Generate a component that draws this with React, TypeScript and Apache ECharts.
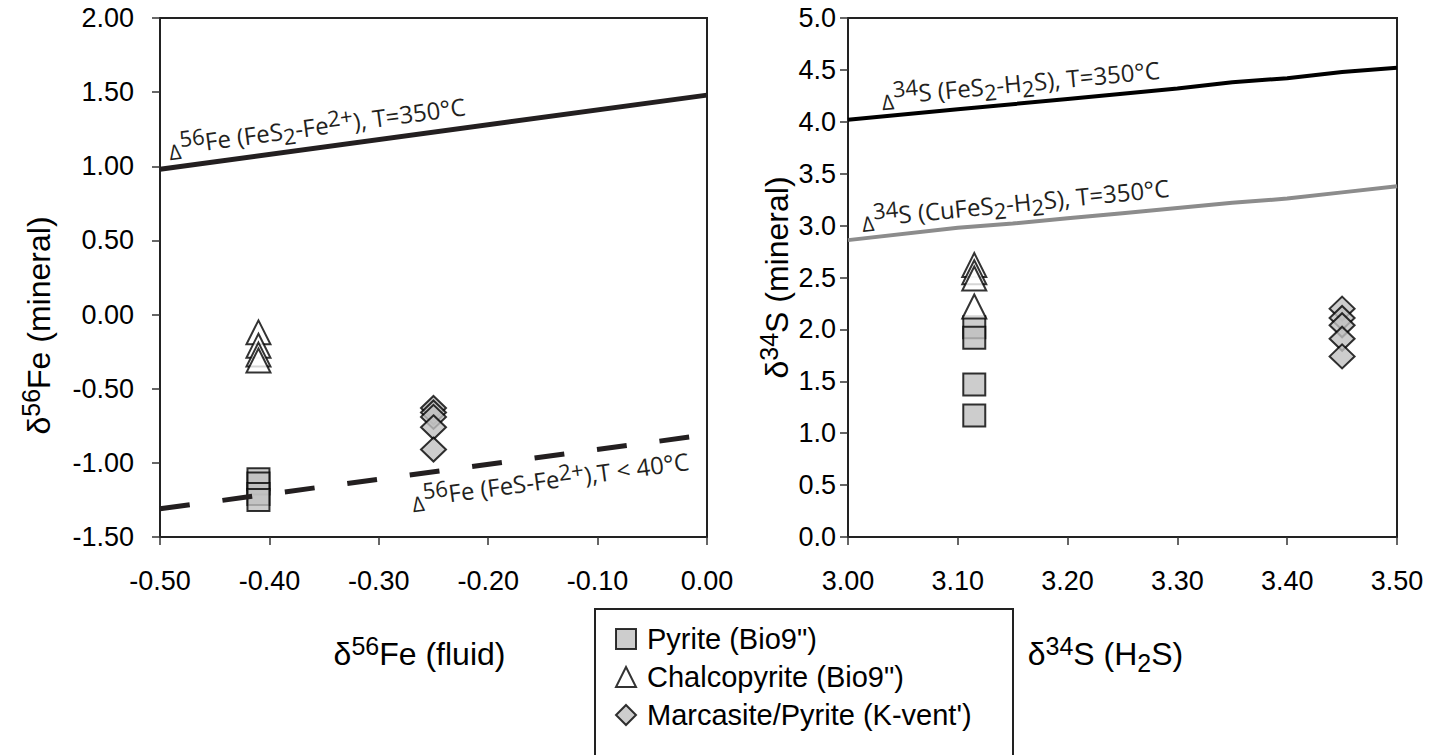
import { useEffect, useRef } from "react";
import * as echarts from "echarts";

const SERIES_NAMES = ["Pyrite (Bio9\")", "Chalcopyrite (Bio9\")", "Marcasite/Pyrite (K-vent')"];

// ---- Fe panel (left) ----
const fePyriteX = [-0.41, -0.41, -0.41, -0.41];
const fePyriteY = [-1.11, -1.14, -1.21, -1.25];
const feChalcoX = [-0.41, -0.41, -0.41, -0.41];
const feChalcoY = [-0.12, -0.21, -0.27, -0.31];
const feMarcX = [-0.25, -0.25, -0.25, -0.25, -0.25];
const feMarcY = [-0.63, -0.66, -0.69, -0.76, -0.91];
const feHotLineX = [-0.5, 0.0];
const feHotLineY = [0.98, 1.48];
const feColdLineX = [-0.5, 0.0];
const feColdLineY = [-1.31, -0.81];

// ---- S panel (right) ----
const sPyriteX = [3.115, 3.115, 3.115, 3.115];
const sPyriteY = [2.02, 1.92, 1.47, 1.17];
const sChalcoX = [3.115, 3.115, 3.115, 3.115];
const sChalcoY = [2.62, 2.55, 2.49, 2.22];
const sMarcX = [3.45, 3.45, 3.45, 3.45, 3.45];
const sMarcY = [2.2, 2.11, 2.04, 1.91, 1.74];
const sPyLineX = [3.0, 3.1, 3.2, 3.25, 3.3, 3.35, 3.4, 3.45, 3.5];
const sPyLineY = [4.02, 4.12, 4.22, 4.27, 4.32, 4.38, 4.42, 4.48, 4.52];
const sCpLineX = [3.0, 3.1, 3.15, 3.2, 3.25, 3.3, 3.35, 3.4, 3.45, 3.5];
const sCpLineY = [2.86, 2.98, 3.02, 3.07, 3.12, 3.17, 3.22, 3.26, 3.32, 3.38];

const ARIAL = 'Arial, "Liberation Sans", sans-serif';
const MYRIAD = '"Open Sans", "Noto Sans", sans-serif';

const zip = (xs: number[], ys: number[]) => xs.map((x, i) => [x, ys[i]]);

const valueAxis = (grid: number, min: number, max: number, interval: number, digits: number, margin: number, extra: any) => ({
  type: "value",
  gridIndex: grid,
  min,
  max,
  interval,
  axisLine: { show: true, onZero: false, lineStyle: { color: "#222", width: 2 } },
  axisTick: { show: true, inside: false, length: 8, lineStyle: { color: "#333", width: 1.5 } },
  splitLine: { show: false },
  axisLabel: {
    formatter: (v: number) => v.toFixed(digits),
    fontSize: 27,
    fontFamily: ARIAL,
    color: "#000",
    margin,
    showMinLabel: true,
    showMaxLabel: true,
  },
  ...extra,
});

const titleRich = {
  d: { fontSize: 32, lineHeight: 42, fontFamily: ARIAL, color: "#000" },
  n: { fontSize: 32, lineHeight: 42, fontFamily: ARIAL, color: "#000" },
  s: { fontSize: 25, lineHeight: 25, fontFamily: ARIAL, color: "#000", verticalAlign: "top" },
  b: { fontSize: 25, lineHeight: 25, fontFamily: ARIAL, color: "#000", verticalAlign: "bottom" },
};

const annoRich = {
  D: { fontSize: 21, lineHeight: 29, fontFamily: MYRIAD, fill: "#231f20", verticalAlign: "bottom" },
  n: { fontSize: 24, lineHeight: 34, fontFamily: MYRIAD, fill: "#231f20" },
  sup: { fontSize: 22, lineHeight: 22, fontFamily: MYRIAD, fill: "#231f20", verticalAlign: "top" },
  sub: { fontSize: 22, lineHeight: 22, fontFamily: MYRIAD, fill: "#231f20", verticalAlign: "bottom" },
};

// annotation texts anchored on their model lines (data coordinates)
const annotations = [
  { grid: 0, lineX: feHotLineX, lineY: feHotLineY, at: [-0.49, 0.99], gap: 5, above: true,
    text: "{D|Δ}{sup|56}{n|Fe (FeS}{sub|2}{n|-Fe}{sup|2+}{n|), T=350°C}" },
  { grid: 0, lineX: feColdLineX, lineY: feColdLineY, at: [-0.273, -1.083], gap: 6, above: false,
    text: "{D|Δ}{sup|56}{n|Fe (FeS-Fe}{sup|2+}{n|),T < 40°C}" },
  { grid: 1, lineX: sPyLineX, lineY: sPyLineY, at: [3.032, 4.05], gap: 4, above: true,
    text: "{D|Δ}{sup|34}{n|S (FeS}{sub|2}{n|-H}{sub|2}{n|S), T=350°C}" },
  { grid: 1, lineX: sCpLineX, lineY: sCpLineY, at: [3.014, 2.875], gap: 4, above: true,
    text: "{D|Δ}{sup|34}{n|S (CuFeS}{sub|2}{n|-H}{sub|2}{n|S), T=350°C}" },
];

const scatterSeries = (grid: number, xs: number[], ys: number[], kind: number) => {
  const styles = [
    { symbol: "rect", symbolSize: 22, itemStyle: { color: "#c0c0c0", borderColor: "#000", borderWidth: 2 } },
    { symbol: "triangle", symbolSize: [24, 24], itemStyle: { color: "#fff", borderColor: "#000", borderWidth: 2 } },
    { symbol: "diamond", symbolSize: [25, 24], itemStyle: { color: "#c0c0c0", borderColor: "#000", borderWidth: 2 } },
  ];
  return {
    type: "scatter",
    name: SERIES_NAMES[kind],
    xAxisIndex: grid,
    yAxisIndex: grid,
    data: zip(xs, ys),
    silent: true,
    ...styles[kind],
  };
};

const lineSeries = (grid: number, xs: number[], ys: number[], color: string, width: number, type: any) => ({
  type: "line",
  xAxisIndex: grid,
  yAxisIndex: grid,
  data: zip(xs, ys),
  showSymbol: false,
  symbol: "none",
  silent: true,
  z: 3,
  lineStyle: { color, width, type, cap: "butt" },
});

export default function App() {
  const ref = useRef<HTMLDivElement>(null);
  useEffect(() => {
    document.body.style.margin = "0";
    const chart = echarts.init(ref.current!, null, { renderer: "svg" });
    const option: any = {
      animation: false,
      backgroundColor: "#fff",
      grid: [
        { left: 160, top: 18, width: 547, height: 519, show: true, borderColor: "#222", borderWidth: 2, backgroundColor: "transparent" },
        { left: 848, top: 18, width: 549, height: 519, show: true, borderColor: "#222", borderWidth: 2, backgroundColor: "transparent" },
      ],
      xAxis: [
        valueAxis(0, -0.5, 0, 0.1, 2, 30, {
          name: "{d|δ}{s|56}{n|Fe (fluid)}",
          nameLocation: "middle",
          nameGap: 96,
          nameTextStyle: { padding: [0, 28, 0, 0], rich: titleRich },
        }),
        valueAxis(1, 3.0, 3.5, 0.1, 2, 30, {
          name: "{d|δ}{s|34}{n|S (H}{b|2}{n|S)}",
          nameLocation: "middle",
          nameGap: 96,
          nameTextStyle: { padding: [0, 34, 0, 0], rich: titleRich },
        }),
      ],
      yAxis: [
        valueAxis(0, -1.5, 2, 0.5, 2, 26, {
          name: "{d|δ}{s|56}{n|Fe (mineral)}",
          nameLocation: "middle",
          nameRotate: 90,
          nameGap: 100,
          nameTextStyle: { padding: [0, 96, 0, 0], rich: titleRich },
        }),
        valueAxis(1, 0, 5, 0.5, 1, 12, {
          name: "{d|δ}{s|34}{n|S (mineral)}",
          nameLocation: "middle",
          nameRotate: 90,
          nameGap: 50,
          nameTextStyle: { rich: titleRich },
        }),
      ],
      legend: {
        data: SERIES_NAMES,
        orient: "vertical",
        left: 597,
        top: 611,
        padding: [12, 10, 4, 18],
        itemGap: 6,
        itemWidth: 20,
        itemHeight: 20,
        borderWidth: 0,
        selectedMode: false,
        textStyle: { fontSize: 29, lineHeight: 32, fontFamily: ARIAL, color: "#000", padding: [0, 0, 0, 6] },
      },
      graphic: [],
      series: [
        scatterSeries(0, fePyriteX, fePyriteY, 0),
        scatterSeries(0, feChalcoX, feChalcoY, 1),
        scatterSeries(0, feMarcX, feMarcY, 2),
        scatterSeries(1, sPyriteX, sPyriteY, 0),
        scatterSeries(1, sChalcoX, sChalcoY, 1),
        scatterSeries(1, sMarcX, sMarcY, 2),
        lineSeries(0, feHotLineX, feHotLineY, "#231f20", 5, "solid"),
        lineSeries(0, feColdLineX, feColdLineY, "#231f20", 5, [30, 33]),
        lineSeries(1, sPyLineX, sPyLineY, "#000", 4, "solid"),
        lineSeries(1, sCpLineX, sCpLineY, "#8c8c8c", 4, "solid"),
      ],
    };
    chart.setOption(option);

    const graphics: any[] = annotations.map((a) => {
      const finder = { xAxisIndex: a.grid, yAxisIndex: a.grid };
      const n = a.lineX.length - 1;
      const p0 = chart.convertToPixel(finder, [a.lineX[0], a.lineY[0]]) as number[];
      const p1 = chart.convertToPixel(finder, [a.lineX[n], a.lineY[n]]) as number[];
      const angle = Math.atan2(p0[1] - p1[1], p1[0] - p0[0]);
      const p = chart.convertToPixel(finder, a.at) as number[];
      return {
        type: "group",
        x: p[0],
        y: p[1],
        rotation: angle,
        silent: true,
        children: [
          {
            type: "text",
            x: 0,
            y: a.above ? -a.gap : a.gap,
            style: {
              text: a.text,
              rich: annoRich,
              align: "left",
              verticalAlign: a.above ? "bottom" : "top",
              fill: "#231f20",
              fontFamily: MYRIAD,
              fontSize: 24,
            },
          },
        ],
      };
    });
    // legend frame (open at the bottom of the page, as in the figure)
    graphics.push({
      type: "rect",
      silent: true,
      z: -1,
      shape: { x: 595, y: 609, width: 418, height: 200 },
      style: { fill: "#fff", stroke: "#222", lineWidth: 2 },
    });
    chart.setOption({ graphic: graphics });

    return () => chart.dispose();
  }, []);
  return <div ref={ref} style={{ position: "absolute", left: 0, top: 0, width: 1429, height: 755 }} />;
}
